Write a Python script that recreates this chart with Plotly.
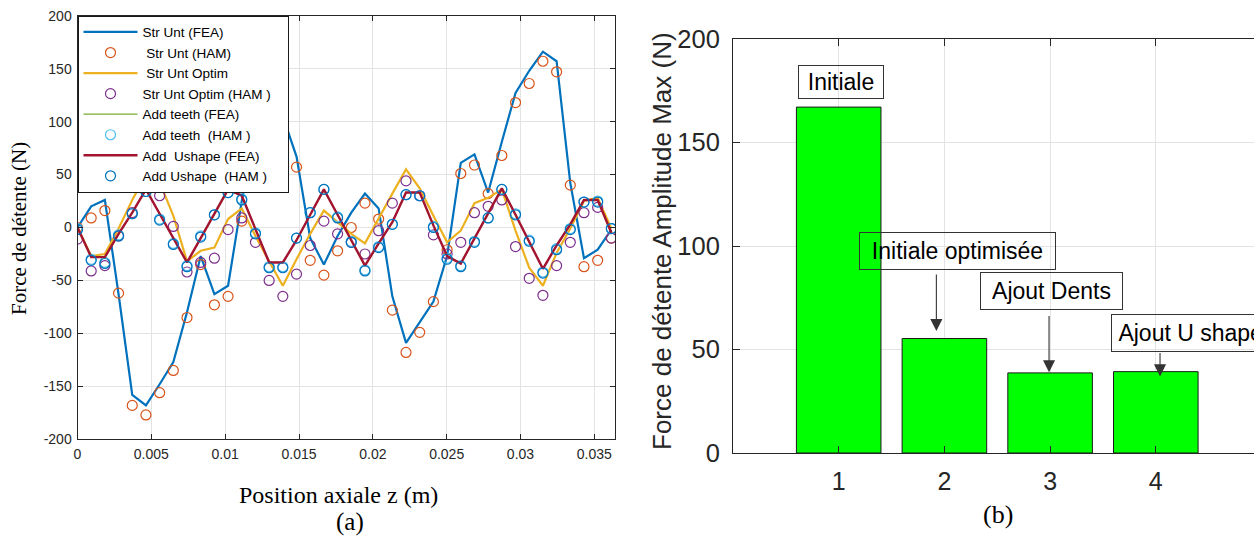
import plotly.graph_objects as go

# ---------------- data: panel (a) ----------------
z_pos = [0.0, 0.000927, 0.001854, 0.002781, 0.003708, 0.004635, 0.005562, 0.006489,
         0.007416, 0.008343, 0.00927, 0.010197, 0.011124, 0.012051, 0.012978, 0.013905,
         0.014832, 0.015759, 0.016686, 0.017613, 0.01854, 0.019467, 0.020394, 0.021321,
         0.022248, 0.023175, 0.024102, 0.025029, 0.025956, 0.026883, 0.02781, 0.028737,
         0.029664, 0.030591, 0.031518, 0.032445, 0.033372, 0.034299, 0.035226, 0.036153]

str_unt_fea = [0, 20, 26, -63, -158, -168, -148, -127, -80, -27,
               -63, -55, 25, 92, 112, 105, 67, -10, -35, -8,
               14, 32, 18, -65, -109, -90, -70, -27, 61, 69,
               33, 81, 127, 148, 166, 157, 42, -29, -21, -2]

str_unt_ham = [0, 9, 16, -62, -168, -177, -156, -135, -85, -35,
               -73, -65, 6, 80, 100, 95, 57, -31, -45, -22,
               0, 23, 8, -78, -118, -99, -70, -21, 51, 59,
               32, 68, 118, 136, 157, 147, 40, -37, -31, -10]

str_unt_optim = [0, -27, -25, -1, 26, 50, 43, 11, -32, -22,
                 -19, 8, 18, -8, -32, -55, -30, -6, 16, 5,
                 -6, -15, 9, 32, 55, 37, 11, -14, -3, 23,
                 28, 36, -3, -38, -55, -24, -1, 25, 28, -1]

str_unt_optim_ham = [-11, -41, -36, -8, 14, 45, 30, 1, -42, -33,
                     -29, -2, 9, -14, -50, -65, -44, -17, 6, -6,
                     -14, -25, -3, 23, 44, 30, -7, -25, -14, 14,
                     20, 26, -18, -48, -64, -36, -14, 14, 19, -10]

add_teeth_fea = [0, -27, -28, -6, 14, 36, 13, -10, -33, -10,
                 13, 35, 30, -2, -33, -33, -12, 12, 35, 12,
                 -12, -36, -15, 5, 33, 33, 2, -27, -34, -10,
                 14, 36, 12, -14, -39, -17, 3, 26, 26, -5]

add_teeth_ham = [-1, -30, -33, -7, 13, 34, 8, -15, -36, -8,
                 12, 33, 27, -5, -37, -37, -10, 14, 36, 10,
                 -13, -40, -18, 3, 31, 30, 1, -29, -36, -13,
                 9, 36, 13, -12, -42, -20, -1, 24, 25, -1]

add_ushape_fea = [0, -28, -28, -6, 14, 36, 13, -10, -33, -10,
                  13, 36, 30, -2, -33, -33, -12, 12, 36, 12,
                  -12, -36, -15, 5, 33, 33, 2, -27, -34, -10,
                  14, 37, 12, -14, -39, -17, 3, 26, 26, -5]

add_ushape_ham = [-2, -31, -34, -8, 13, 34, 7, -16, -37, -9,
                  12, 33, 26, -6, -38, -38, -10, 14, 36, 9,
                  -14, -41, -19, 3, 31, 30, 0, -30, -37, -14,
                  9, 36, 12, -13, -43, -21, -2, 24, 24, -1]

x_ticks_a = [0, 0.005, 0.01, 0.015, 0.02, 0.025, 0.03, 0.035]
x_ticklabels_a = ["0", "0.005", "0.01", "0.015", "0.02", "0.025", "0.03", "0.035"]
y_ticks_a = [-200, -150, -100, -50, 0, 50, 100, 150, 200]
y_ticklabels_a = ["-200", "-150", "-100", "-50", "0", "50", "100", "150", "200"]

# ---------------- data: panel (b) ----------------
bar_cats = [1, 2, 3, 4]
bar_vals = [167.1, 55.3, 38.7, 39.3]
bar_labels = ["Initiale", "Initiale optimisée", "Ajout Dents", "Ajout U shape"]
y_ticks_b = [0, 50, 100, 150, 200]

W, H = 1254, 539
NB = "\u00a0"

C_BLUE = "#0072BD"
C_ORANGE = "#D95319"
C_YELLOW = "#EDB120"
C_PURPLE = "#7E2F8E"
C_GREEN = "#77AC30"
C_CYAN = "#4DBEEE"
C_RED = "#A2142F"
AXC = "#262626"
GRID = "#e3e3e3"
SANS = "Liberation Sans, Arial, sans-serif"
SERIF = "Liberation Serif, Times New Roman, serif"

fig = go.Figure()

def line(y, name, color, width):
    fig.add_trace(go.Scatter(x=z_pos, y=y, mode="lines", name=name,
                             line=dict(color=color, width=width),
                             xaxis="x", yaxis="y"))

def circ(y, name, color):
    fig.add_trace(go.Scatter(x=z_pos, y=y, mode="markers", name=name,
                             marker=dict(symbol="circle-open", size=10,
                                         color=color, line=dict(width=1.2, color=color)),
                             xaxis="x", yaxis="y"))

line(str_unt_fea, "Str Unt (FEA)", C_BLUE, 2.2)
circ(str_unt_ham, NB + "Str Unt (HAM)", C_ORANGE)
line(str_unt_optim, NB + "Str Unt Optim", C_YELLOW, 2.2)
circ(str_unt_optim_ham, "Str Unt Optim (HAM )" + NB * 3, C_PURPLE)
line(add_teeth_fea, "Add teeth (FEA)", C_GREEN, 1.2)
circ(add_teeth_ham, "Add teeth " + NB + "(HAM )", C_CYAN)
line(add_ushape_fea, "Add " + NB + "Ushape (FEA)", C_RED, 2.4)
circ(add_ushape_ham, "Add Ushape " + NB + "(HAM )", C_BLUE)

fig.add_trace(go.Bar(x=bar_cats, y=bar_vals, width=0.8,
                     marker=dict(color="#00FF00", line=dict(color="#1a1a1a", width=1)),
                     xaxis="x2", yaxis="y2", showlegend=False))

# geometry (pixels -> paper)
ax_l, ax_r, ax_t, ax_b = 77.5, 615, 15.7, 439.3
bx_l, bx_t, bx_b = 733, 39, 453
px_per_cat = 105.7

common = dict(showline=True, linecolor=AXC, linewidth=1, showgrid=True,
              gridcolor=GRID, gridwidth=1, zeroline=False, automargin=False,
              tickcolor=AXC, ticks="inside")

fig.update_layout(
    template="none",
    width=W, height=H,
    margin=dict(l=0, r=0, t=0, b=0, pad=0, autoexpand=False),
    paper_bgcolor="white", plot_bgcolor="white",
    font=dict(family=SANS, color=AXC),
    showlegend=True,
    xaxis=dict(domain=[ax_l / W, ax_r / W], range=[0, 0.0364],
               tickvals=x_ticks_a, ticktext=x_ticklabels_a, ticklen=5,
               mirror="ticks", tickfont=dict(size=14, color=AXC, family=SANS),
               ticklabelstandoff=2, anchor="y", **common),
    yaxis=dict(domain=[1 - ax_b / H, 1 - ax_t / H], range=[-200, 200],
               tickvals=y_ticks_a, ticktext=y_ticklabels_a, ticklen=5,
               mirror="ticks", tickfont=dict(size=14, color=AXC, family=SANS),
               ticklabelstandoff=2, anchor="x", **common),
    xaxis2=dict(domain=[bx_l / W, 1.0], range=[0, (W - bx_l) / px_per_cat],
                tickvals=bar_cats, ticklen=7, mirror="ticks",
                tickfont=dict(size=25, color=AXC, family=SANS),
                ticklabelstandoff=6, anchor="y2", **common),
    yaxis2=dict(domain=[1 - bx_b / H, 1 - bx_t / H], range=[0, 200],
                tickvals=y_ticks_b, ticklen=7,
                tickfont=dict(size=25.5, color=AXC, family=SANS),
                ticklabelstandoff=7, anchor="x2", **common),
    legend=dict(x=ax_l / W, y=1 - ax_t / H, xanchor="left", yanchor="top",
                bgcolor="white", bordercolor="#1a1a1a", borderwidth=1,
                font=dict(size=13.5, color="black", family=SANS),
                itemwidth=54, tracegroupgap=0, traceorder="normal"),
    bargap=0.2,
)

ann = [
    dict(text="Force de détente (N)", x=19 / W, y=1 - 229 / H, textangle=-90,
         font=dict(family=SERIF, size=21, color="black")),
    dict(text="Position axiale z (m)", x=338 / W, y=1 - 495 / H,
         font=dict(family=SERIF, size=24, color="black")),
    dict(text="(a)", x=350 / W, y=1 - 522 / H,
         font=dict(family=SERIF, size=25, color="black")),
    dict(text="Force de détente Amplitude Max (N)", x=662 / W, y=1 - 241 / H,
         textangle=-90, font=dict(size=26, color=AXC, family=SANS)),
    dict(text="(b)", x=998 / W, y=1 - 514 / H,
         font=dict(family=SERIF, size=26, color="black")),
]
for a in ann:
    a.update(xref="paper", yref="paper", showarrow=False,
             xanchor="center", yanchor="middle")
    fig.add_annotation(**a)

# labelled boxes (left edge data x, bottom data y, px width, px height, alignment)
boxes = [
    (bar_labels[0], 0.613, 171.0, 86, 34, "center"),
    (bar_labels[1], 1.195, 88.3, 197, 38, "center"),
    (bar_labels[2], 2.336, 68.9, 143, 38, "center"),
    (NB + bar_labels[3], 3.576, 49.0, 175, 38, "left"),
]
for txt, bx, by, bw, bh, al in boxes:
    fig.add_annotation(text=txt, x=bx, y=by, xref="x2", yref="y2",
                       xanchor="left", yanchor="bottom", showarrow=False,
                       width=bw - 2, height=bh - 2, borderpad=0,
                       bordercolor="#333333", borderwidth=1,
                       font=dict(size=23, color="black", family=SANS),
                       align=al, valign="middle")

# arrows (x, tail y, head y)
arrows = [(1.924, 87.0, 58.9), (2.99, 66.9, 39.0), (4.04, 49.0, 37.0)]
for axp, ty, hy in arrows:
    fig.add_annotation(text="", x=axp, y=hy, ax=axp, ay=ty,
                       xref="x2", yref="y2", axref="x2", ayref="y2",
                       showarrow=True, arrowhead=2, arrowsize=2.2,
                       arrowwidth=1.1, arrowcolor="#333333")

fig.write_html("out.html",
               config={"displayModeBar": False},
               post_script="document.body.style.margin='0px';"
                           "document.body.style.overflow='hidden';")
